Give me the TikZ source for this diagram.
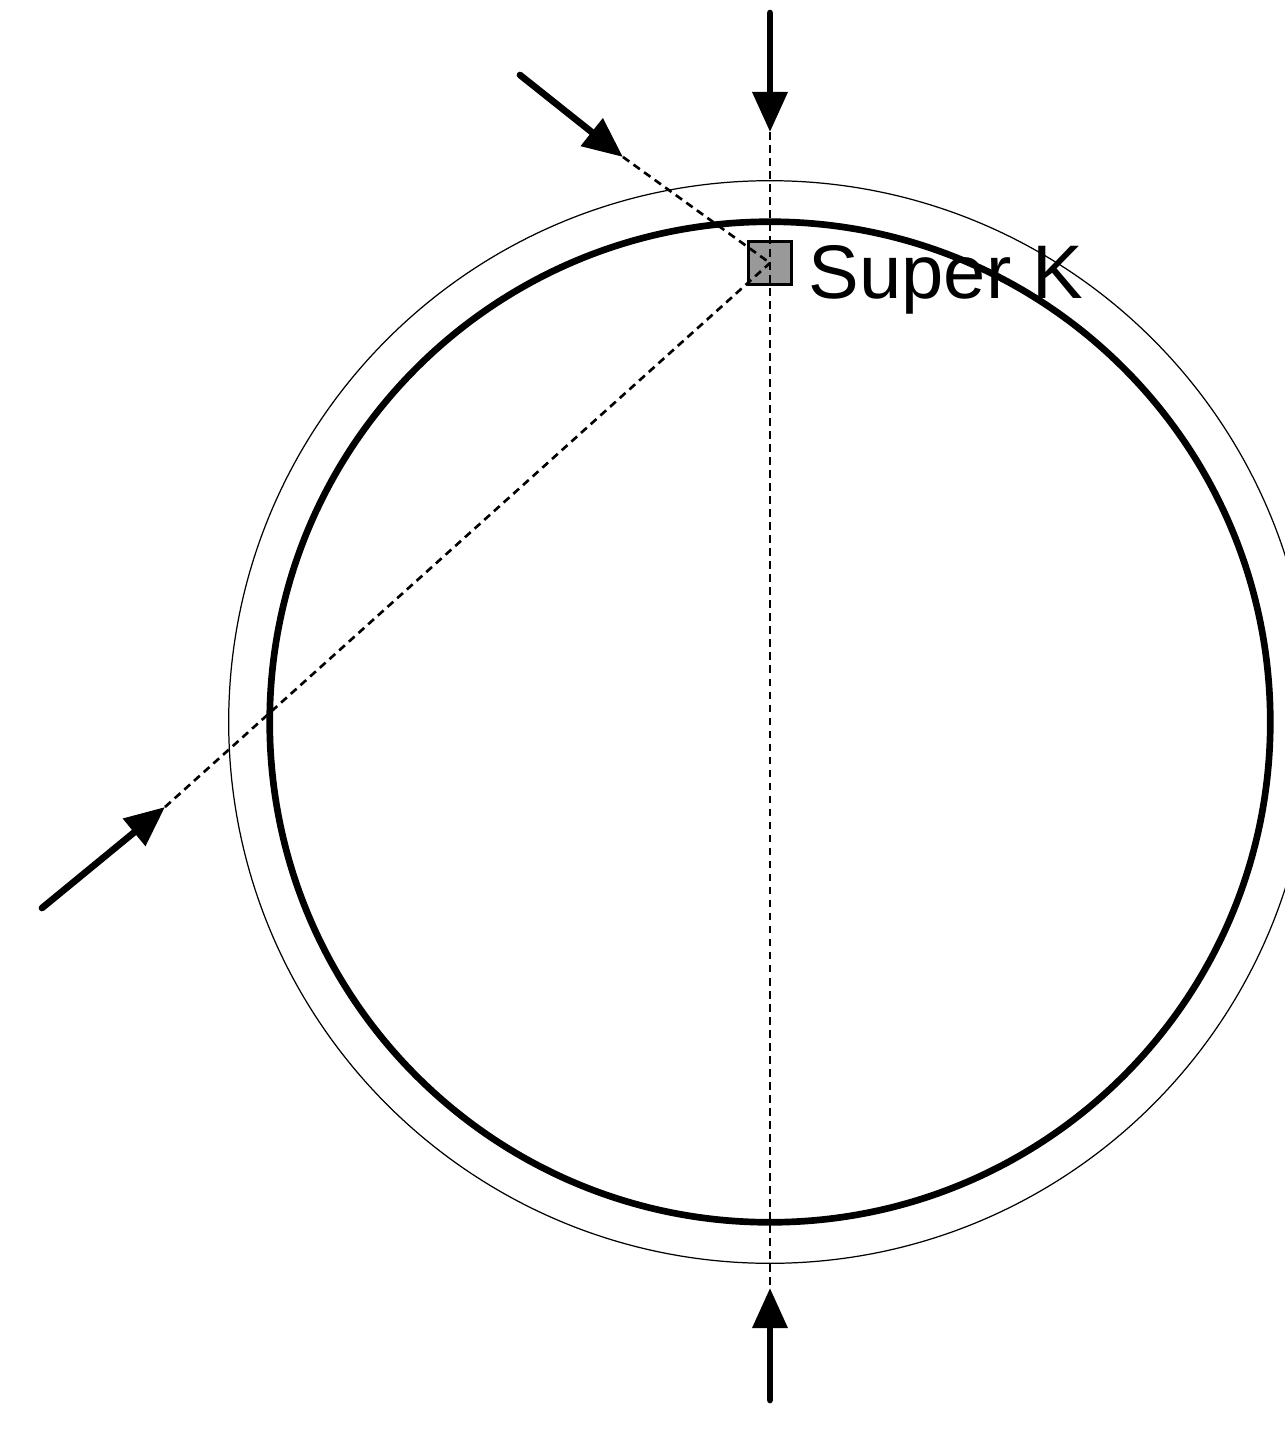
\documentclass[tikz,border=0pt]{standalone}
\usepackage{fontspec}
\setmainfont{Liberation Sans}
\usepackage{tikz}
\usetikzlibrary{arrows.meta, positioning, calc}

\begin{document}
\begin{tikzpicture}[x=0.01cm,y=-0.01cm]
\tikzset{
  det/.style={rectangle,draw=black,line width=0.7pt,fill=black!40,minimum size=0.43cm,inner sep=0pt},
  lbl/.style={inner sep=0pt,anchor=base west,font=\fontsize{21.6}{26}\selectfont},
  nu/.style={-{Triangle[length=4mm,width=3.4mm]},line width=1.9pt,line cap=round},
  path/.style={line width=0.75pt,dash pattern=on 2.2pt off 1.5pt}
}
\useasboundingbox (0,0) rectangle (1285,1429);
% earth
\draw[line width=0.35pt] (770,722) circle[radius=5.41cm];
\draw[line width=1.9pt] (770,722) circle[radius=5cm];
% detector
\node[det] (sk) at (770,263) {};
\node[lbl] (name) at (808,298) {Super K};
% incoming neutrinos
\coordinate (a1) at (770,13);   \coordinate (t1) at (770,132);
\coordinate (a2) at (520,75);   \coordinate (t2) at (623,157);
\coordinate (a3) at (42,908);   \coordinate (t3) at (165,807);
\coordinate (a4) at (770,1400); \coordinate (t4) at (770,1288);
\draw[nu] (a1) -- (t1);
\draw[nu] (a2) -- (t2);
\draw[nu] (a3) -- (t3);
\draw[nu] (a4) -- (t4);
\draw[path] (t1) -- (t4);
\draw[path] (t2) -- (sk.center);
\draw[path] (t3) -- (sk.center);
\end{tikzpicture}
\end{document}
